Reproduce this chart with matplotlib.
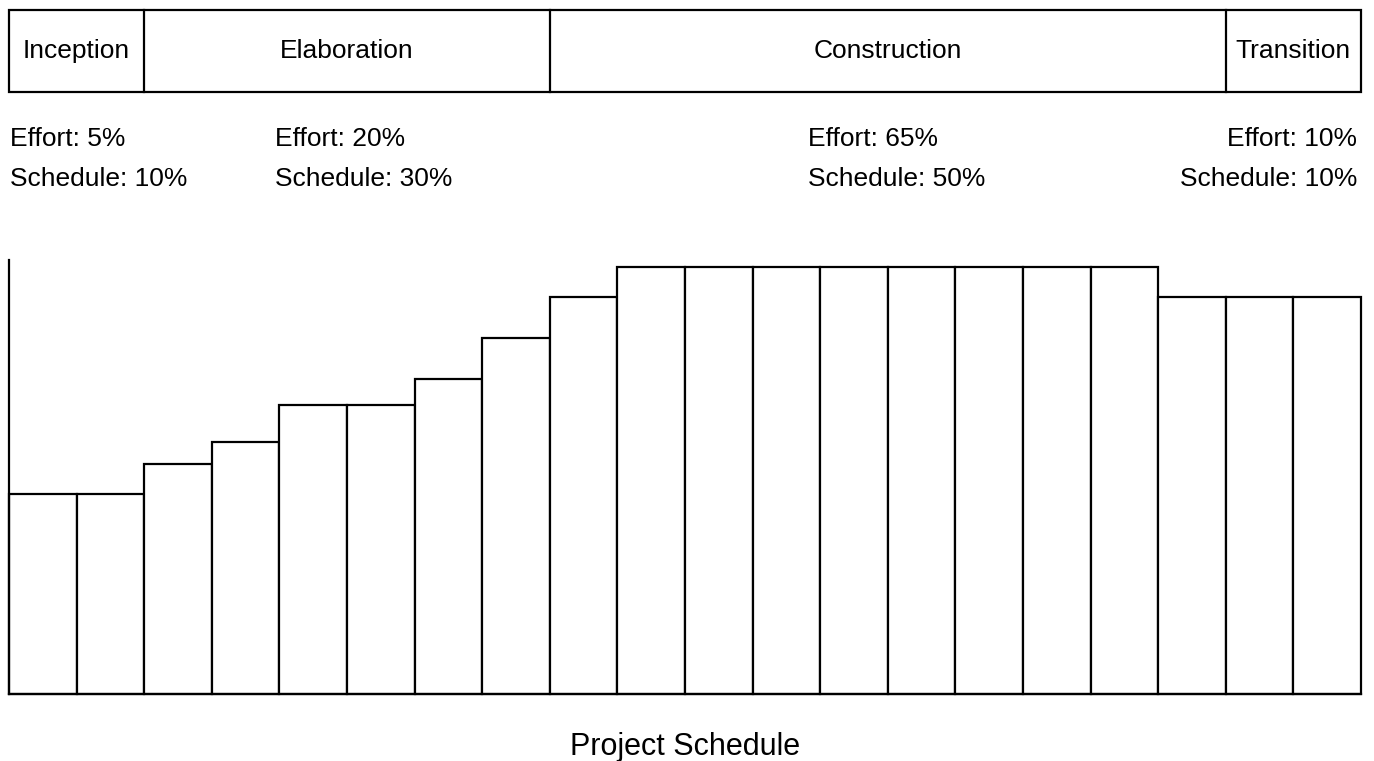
import matplotlib
matplotlib.use("Agg")
import matplotlib.pyplot as plt
from matplotlib.patches import Rectangle

plt.rcParams['font.family'] = ['Liberation Sans', 'DejaVu Sans']

# Phases of the unified process and their share of effort / schedule
phases = ["Inception", "Elaboration", "Construction", "Transition"]
effort_pct = [5, 20, 65, 10]
schedule_pct = [10, 30, 50, 10]

# Staffing level for each of the 20 time slices of the project
staffing = [4.6, 4.6, 5.3, 5.8, 6.65, 6.65, 7.25, 8.2, 9.15, 9.85,
            9.85, 9.85, 9.85, 9.85, 9.85, 9.85, 9.85, 9.15, 9.15, 9.15]
axis_top = 10.0

W, H = 1374, 761
fig = plt.figure(figsize=(W / 100, H / 100), dpi=100)

left_px, right_px = 9, 1361

def fx(px):
    return px / W

def fy(py):
    return 1 - py / H

# ---- phase strip across the top ----
ax_top = fig.add_axes([fx(left_px), fy(92), fx(right_px - left_px), (92 - 10) / H])
ax_top.set_xlim(0, 100)
ax_top.set_ylim(0, 1)
ax_top.axis("off")
ax_top.add_patch(Rectangle((0, 0), 100, 1, fill=False, lw=1.6, ec="black",
                           clip_on=False))
start = 0
for name, sch in zip(phases, schedule_pct):
    if start > 0:
        ax_top.plot([start, start], [0, 1], color="black", lw=1.6,
                    clip_on=False)
    ax_top.text(start + sch / 2, 0.5, name, ha="center", va="center",
                fontsize=19)
    start += sch

# ---- effort / schedule notes under each phase ----
note_x = [10, 275, 808, 1357]
note_ha = ["left", "left", "left", "right"]
for x, ha, e, s in zip(note_x, note_ha, effort_pct, schedule_pct):
    fig.text(fx(x), fy(146), f"Effort: {e}%", ha=ha, va="baseline",
             fontsize=19)
    fig.text(fx(x), fy(186), f"Schedule: {s}%", ha=ha, va="baseline",
             fontsize=19)

# ---- staffing bars ----
ax = fig.add_axes([fx(left_px), fy(694), fx(right_px - left_px), (694 - 260) / H])
n = len(staffing)
bars = ax.bar(range(n), staffing, width=1.0, align="edge", color="white",
              edgecolor="black", linewidth=1.6)
for b in bars:
    b.set_clip_on(False)
ax.set_xlim(0, n)
ax.set_ylim(0, axis_top)
for side in ("top", "right"):
    ax.spines[side].set_visible(False)
for side in ("left", "bottom"):
    ax.spines[side].set_linewidth(1.6)
ax.set_xticks([])
ax.set_yticks([])
ax.set_xlabel("Project Schedule", fontsize=22, labelpad=27)

fig.savefig("out.png", dpi=100, facecolor="white")
